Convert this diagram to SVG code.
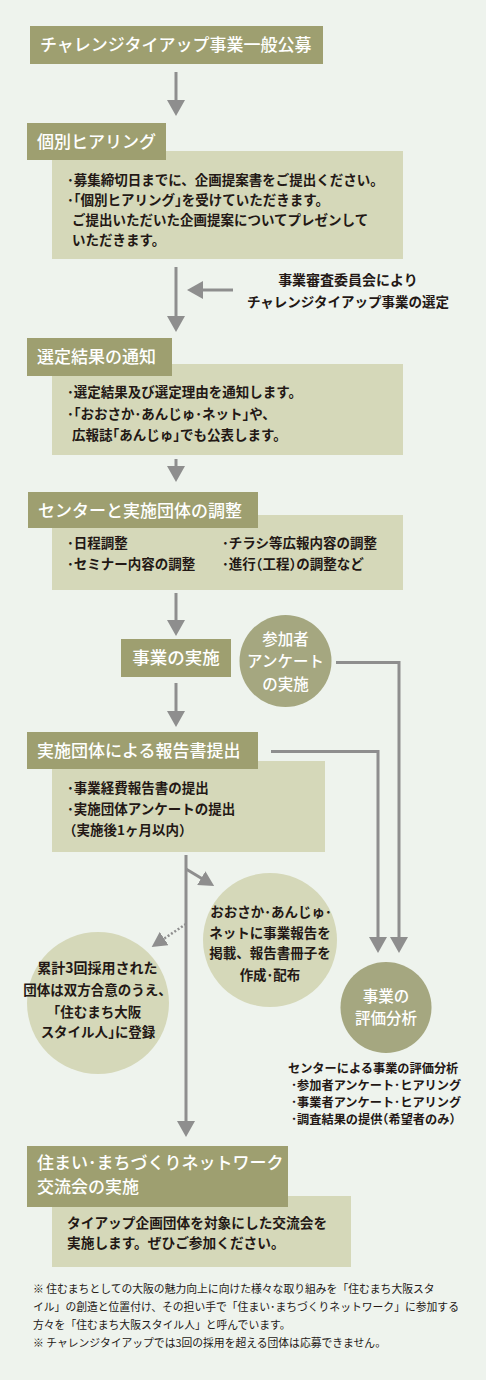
<svg xmlns="http://www.w3.org/2000/svg" width="486" height="1380" viewBox="0 0 486 1380">
<defs>
<style>
text{font-family:"Noto Sans CJK JP","Noto Sans",sans-serif;font-weight:700;}
.hd{fill:#9e9f70;}
.bx{fill:#d5d8b9;}
.ht{fill:#ffffff;font-size:17px;font-weight:500;}
.bt{fill:#231815;font-size:13.5px;}
.ct{fill:#ffffff;font-size:15.5px;font-weight:500;}
.lt{fill:#231815;font-size:13.5px;}
.et{fill:#231815;font-size:12.2px;}
.nt{fill:#231815;font-size:10.8px;font-weight:400;}
.h{font-feature-settings:"halt";}
.cn{fill:none;stroke:#8e8e8e;stroke-width:3;}
.dt{fill:none;stroke:#8e8e8e;stroke-width:2.5;stroke-dasharray:2 2;}
</style>
<marker id="ah" markerUnits="userSpaceOnUse" markerWidth="18" markerHeight="18" viewBox="0 0 18 18" refX="2" refY="9" orient="auto">
<path d="M0,0 L16,9 L0,18 Z" fill="#8e8e8e"/>
</marker>
<marker id="ahs" markerUnits="userSpaceOnUse" markerWidth="16" markerHeight="16" viewBox="0 0 16 16" refX="2" refY="8" orient="auto">
<path d="M0,0 L15,8 L0,16 Z" fill="#8e8e8e"/>
</marker>
</defs>
<rect x="0" y="0" width="486" height="1380" fill="#eef3ed"/>

<g id="connectors">
<line class="cn" x1="176" y1="72" x2="176" y2="102" marker-end="url(#ah)"/>
<line class="cn" x1="176" y1="267" x2="176" y2="318" marker-end="url(#ah)"/>
<line class="cn" x1="233" y1="290" x2="201" y2="290" marker-end="url(#ah)"/>
<line class="cn" x1="176" y1="459" x2="176" y2="468" marker-end="url(#ah)"/>
<line class="cn" x1="176" y1="593" x2="176" y2="622" marker-end="url(#ah)"/>
<line class="cn" x1="176" y1="683" x2="176" y2="713" marker-end="url(#ah)"/>
<path class="cn" d="M336,662.5 H399 V939" marker-end="url(#ah)"/>
<path class="cn" d="M271,751.5 H378 V939" marker-end="url(#ah)"/>
<line class="cn" x1="186" y1="855" x2="186" y2="1123" marker-end="url(#ah)"/>
<line class="cn" x1="186" y1="869" x2="203" y2="879.2" marker-end="url(#ahs)"/>
<line class="dt" x1="186" y1="924" x2="162.5" y2="939.7" marker-end="url(#ahs)"/>
</g>

<g id="n-title">
<rect class="hd" x="30" y="26" width="293" height="38"/>
<text class="ht" x="40" y="51">チャレンジタイアップ事業一般公募</text>
</g>

<g id="n-hearing">
<rect class="bx" x="52" y="151" width="351" height="108"/>
<rect class="hd" x="27" y="123" width="139" height="37"/>
<text class="ht" x="37" y="147.5">個別ヒアリング</text>
<text class="bt" x="67" y="185">･募集締切日までに、企画提案書をご提出ください。</text>
<text class="bt" x="67" y="205">･<tspan class="h">「</tspan>個別ヒアリング<tspan class="h">」</tspan>を受けていただきます。</text>
<text class="bt" x="72" y="225">ご提出いただいた企画提案についてプレゼンして</text>
<text class="bt" x="72" y="245">いただきます。</text>
</g>

<g id="n-committee">
<text class="lt" x="348" y="285" text-anchor="middle" style="font-size:14px">事業審査委員会により</text>
<text class="lt" x="348" y="307" text-anchor="middle">チャレンジタイアップ事業の選定</text>
</g>

<g id="n-notice">
<rect class="bx" x="52" y="364" width="351" height="91"/>
<rect class="hd" x="27" y="338" width="145" height="38"/>
<text class="ht" x="37" y="362.5">選定結果の通知</text>
<text class="bt" x="67" y="397">･選定結果及び選定理由を通知します。</text>
<text class="bt" x="67" y="418.5">･<tspan class="h">「</tspan>おおさか･あんじゅ･ネット<tspan class="h">」</tspan>や、</text>
<text class="bt" x="72" y="440">広報誌<tspan class="h">「</tspan>あんじゅ<tspan class="h">」</tspan>でも公表します。</text>
</g>

<g id="n-adjust">
<rect class="bx" x="52" y="515" width="351" height="75"/>
<rect class="hd" x="28" y="492" width="230" height="36"/>
<text class="ht" x="38" y="516.5">センターと実施団体の調整</text>
<text class="bt" x="67" y="548">･日程調整</text>
<text class="bt" x="67" y="569">･セミナー内容の調整</text>
<text class="bt" x="222" y="548">･チラシ等広報内容の調整</text>
<text class="bt" x="222" y="569">･進行<tspan class="h">（</tspan>工程<tspan class="h">）</tspan>の調整など</text>
</g>

<g id="n-exec">
<rect class="hd" x="121" y="639" width="110" height="38"/>
<text class="ht" x="176" y="664" text-anchor="middle" style="font-size:17.5px">事業の実施</text>
</g>

<g id="n-survey">
<circle cx="285.5" cy="661" r="46" fill="#a5a780"/>
<text class="ct" text-anchor="middle"><tspan x="285.5" y="644.5">参加者</tspan><tspan x="285.5" y="667">アンケート</tspan><tspan x="285.5" y="689.5">の実施</tspan></text>
</g>

<g id="n-report">
<rect class="bx" x="52" y="761" width="273" height="91"/>
<rect class="hd" x="27" y="732" width="231" height="37"/>
<text class="ht" x="37" y="756.5">実施団体による報告書提出</text>
<text class="bt" x="67" y="793">･事業経費報告書の提出</text>
<text class="bt" x="67" y="814">･実施団体アンケートの提出</text>
<text class="bt" x="63" y="835">（実施後1ヶ月以内）</text>
</g>

<g id="n-publish">
<circle cx="270" cy="940" r="67" fill="#d5d8b9"/>
<text class="lt" text-anchor="middle"><tspan x="271" y="917">おおさか･あんじゅ･</tspan><tspan x="270" y="938">ネットに事業報告を</tspan><tspan x="270" y="958">掲載、報告書冊子を</tspan><tspan x="270" y="980">作成･配布</tspan></text>
</g>

<g id="n-register">
<circle cx="98" cy="1003" r="71" fill="#d5d8b9"/>
<text class="lt" text-anchor="middle"><tspan x="97.5" y="973" style="font-size:14px">累計3回採用された</tspan><tspan x="97.5" y="995">団体は双方合意のうえ、</tspan><tspan x="94" y="1017">「住むまち大阪</tspan><tspan x="98" y="1037">スタイル人<tspan class="h">」</tspan>に登録</tspan></text>
</g>

<g id="n-eval">
<circle cx="386" cy="1007.5" r="45.5" fill="#a5a780"/>
<text class="ct" text-anchor="middle"><tspan x="386" y="1001.5">事業の</tspan><tspan x="386" y="1024">評価分析</tspan></text>
<text class="et" x="288" y="1073">センターによる事業の評価分析</text>
<text class="et" x="291" y="1090">･参加者アンケート･ヒアリング</text>
<text class="et" x="291" y="1107">･事業者アンケート･ヒアリング</text>
<text class="et" x="291" y="1124">･調査結果の提供<tspan class="h">（</tspan>希望者のみ<tspan class="h">）</tspan></text>
</g>

<g id="n-network">
<rect class="bx" x="52" y="1196" width="299" height="71"/>
<rect class="hd" x="27" y="1146" width="261" height="61"/>
<text class="ht"><tspan x="37" y="1169">住まい･まちづくりネットワーク</tspan><tspan x="37" y="1193">交流会の実施</tspan></text>
<text class="bt" x="67" y="1228" style="font-size:13.7px">タイアップ企画団体を対象にした交流会を</text>
<text class="bt" x="67" y="1248" style="font-size:13.7px">実施します。ぜひご参加ください。</text>
</g>

<g id="notes">
<text class="nt" x="33" y="1293">※ 住むまちとしての大阪の魅力向上に向けた様々な取り組みを「住むまち大阪スタ</text>
<text class="nt" x="33" y="1311">イル」の創造と位置付け、その担い手で「住まい･まちづくりネットワーク」に参加する</text>
<text class="nt" x="33" y="1329">方々を「住むまち大阪スタイル人」と呼んでいます。</text>
<text class="nt" x="33" y="1347">※ チャレンジタイアップでは3回の採用を超える団体は応募できません。</text>
</g>
</svg>
